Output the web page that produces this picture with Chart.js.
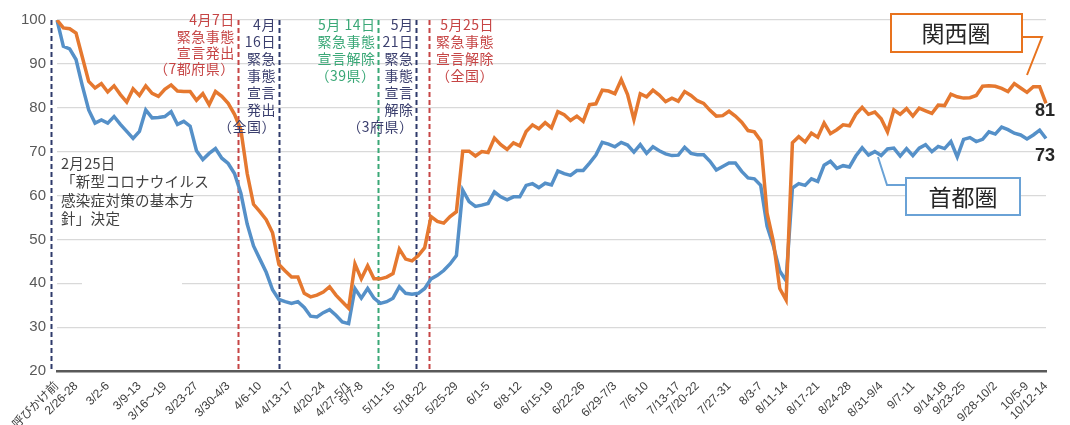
<!DOCTYPE html>
<html>
<head>
<meta charset="utf-8">
<script src="https://cdn.jsdelivr.net/npm/chart.js@4"></script>
<style>
  body { margin: 0; background: #fff; }
  #chart_canvas { display: block; }
</style>
</head>
<body>
<canvas id="chart_canvas" width="1070" height="425"></canvas>
<script>
// week groups on the x axis (label sits on the last business day of each group)
const week_labels = ['呼びかけ前', '2/26-28', '3/2-6', '3/9-13', '3/16～19', '3/23-27', '3/30-4/3',
    '4/6-10', '4/13-17', '4/20-24', '4/27-5/1', '5/7-8', '5/11-15', '5/18-22', '5/25-29',
    '6/1-5', '6/8-12', '6/15-19', '6/22-26', '6/29-7/3', '7/6-10', '7/13-17', '7/20-22',
    '7/27-31', '8/3-7', '8/11-14', '8/17-21', '8/24-28', '8/31-9/4', '9/7-11', '9/14-18',
    '9/23-25', '9/28-10/2', '10/5-9', '10/12-14'];
const week_days = [1, 3, 5, 5, 4, 5, 5, 5, 5, 5, 4, 2, 5, 5, 5, 5, 5, 5, 5, 5, 5, 5, 3,
    5, 5, 4, 5, 5, 5, 5, 5, 3, 5, 5, 3];

// 関西圏 (orange)
const kansai = [
    100, 98.2, 98, 97, 91.5, 86, 84.5, 85.5, 83.6, 85,
    83, 81.3, 84.3, 82.8, 85, 83.3, 82.6, 84.2, 85.2, 83.8,
    83.7, 83.7, 81.7, 83.2, 80.7, 83.7, 82.6, 81, 78.5, 75,
    65, 58, 56.3, 54.5, 51.5, 44.3, 42.8, 41.4, 41.4, 37.7,
    36.9, 37.3, 38, 39.2, 37.3, 35.8, 34.3, 44.4, 41, 44,
    41, 41, 41.4, 42.2, 47.8, 45.5, 45.1, 46.3, 48.1, 55.2,
    54.1, 53.7, 55.2, 56.3, 70.1, 70.1, 69, 70, 69.8, 73.1,
    71.6, 70.5, 72, 71.3, 74.6, 76.1, 75.2, 76.6, 75.4, 79.1,
    78.4, 77.1, 78.1, 76.9, 80.7, 80.9, 84, 83.8, 83.2, 86.4,
    83, 77.3, 83.2, 82.5, 84, 82.9, 81.4, 82.2, 81.5, 83.7,
    82.8, 81.6, 81, 79.4, 78.1, 78.2, 79.2, 78.1, 76.7, 74.8,
    74.5, 72.5, 56, 49.5, 38.8, 36.2, 72, 73.4, 72.2, 74.2,
    73.3, 76.5, 74.1, 75, 76.1, 75.9, 78.5, 80.1, 78.5, 79,
    77.5, 74.5, 79.5, 78.5, 79.8, 78.1, 79.9, 79.3, 78.7, 80.6,
    80.5, 83.1, 82.5, 82.2, 82.3, 82.8, 84.9, 85, 84.9, 84.4,
    83.7, 85.5, 84.5, 83.5, 84.8, 84.8, 81
];

// 首都圏 (blue)
const shutoken = [
    100, 94, 93.4, 91, 85, 79.5, 76.5, 77.2, 76.5, 78,
    76.2, 74.6, 73, 74.6, 79.5, 77.7, 77.8, 78, 79.1, 76.2,
    76.9, 75.8, 70.2, 68.2, 69.6, 70.7, 68.5, 67.3, 65, 60.5,
    53.5, 48.5, 45.5, 42.5, 38.5, 36.3, 35.8, 35.4, 35.8, 34.5,
    32.5, 32.3, 33.3, 34, 32.7, 31.2, 30.8, 38.8, 36.6, 38.8,
    36.6, 35.4, 35.8, 36.6, 39.2, 37.7, 37.5, 37.7, 38.8, 41,
    41.8, 42.9, 44.4, 46.3, 61.2, 58.6, 57.5, 57.8, 58.2, 60.8,
    59.7, 59, 59.7, 59.7, 62.3, 62.7, 61.8, 62.8, 62.4, 65.6,
    65, 64.6, 65.7, 65.7, 67.4, 69.2, 72.1, 71.7, 71.1, 72.1,
    71.5, 69.9, 71.6, 69.6, 71.1, 70.2, 69.5, 69.1, 69.2, 71,
    69.6, 69.3, 69.3, 67.8, 65.8, 66.6, 67.4, 67.4, 65.5, 64,
    63.8, 62.3, 53, 48.5, 42.8, 40.6, 61.7, 62.7, 62.3, 63.8,
    63.2, 66.9, 67.8, 66.2, 66.8, 66.5, 69, 70.9, 69.2, 70,
    69.1, 70.6, 70.8, 69, 70.7, 69.1, 70.8, 71.6, 70, 71.2,
    70.7, 72.3, 68.8, 72.8, 73.2, 72.3, 72.8, 74.5, 74, 75.6,
    75, 74.2, 73.8, 72.9, 73.8, 74.9, 73
];

// events, given as position on the day axis
const event_pos = [-0.9, 28.5, 35, 50.7, 56.7, 58.7];
const event_colors = ['#2E3A6B', '#C64545', '#2E3A6B', '#3AA877', '#2E3A6B', '#C64545'];

const note_texts = [
    ['4月7日', '緊急事態', '宣言発出', '（7都府県）'],
    ['4月', '16日', '緊急', '事態', '宣言', '発出', '（全国）'],
    ['5月 14日', '緊急事態', '宣言解除', '（39県）'],
    ['5月', '21日', '緊急', '事態', '宣言', '解除', '（3府県）'],
    ['5月25日', '緊急事態', '宣言解除', '（全国）']
];
const policy_text = ['2月25日', '「新型コロナウイルス', '感染症対策の基本方', '針」決定'];

const orange = '#E5782F';
const blue = '#5590C8';

// build the day labels from the week groups
let x_labels = [];
for (let w = 0; w < week_labels.length; w++) {
    for (let d = 0; d < week_days[w] - 1; d++) {
        x_labels.push('');
    }
    x_labels.push(week_labels[w]);
}

const jp_font = '"Noto Sans CJK JP", "Noto Sans", sans-serif';

function draw_lines_text(ctx, lines, x, y0, step, align) {
    ctx.textAlign = align;
    for (let i = 0; i < lines.length; i++) {
        ctx.fillText(lines[i], x, y0 + i * step);
    }
}

const overlay_plugin = {
    id: 'overlay',
    beforeDatasetsDraw(chart) {
        const ctx = chart.ctx;
        const xs = chart.scales.x;
        const ys = chart.scales.y;
        ctx.save();
        // white patch over the grid (left over box in the source)
        ctx.fillStyle = '#ffffff';
        ctx.beginPath();
        ctx.roundRect(82, 258, 100, 44, 8);
        ctx.fill();
        // event lines
        ctx.lineWidth = 2;
        ctx.setLineDash([5, 3]);
        for (let i = 0; i < event_pos.length; i++) {
            const px = Math.round(xs.getPixelForValue(event_pos[i])) + 0.5;
            ctx.strokeStyle = event_colors[i];
            ctx.beginPath();
            ctx.moveTo(px, ys.getPixelForValue(100));
            ctx.lineTo(px, ys.getPixelForValue(20));
            ctx.stroke();
        }
        ctx.restore();
    },
    afterDraw(chart) {
        const ctx = chart.ctx;
        const xs = chart.scales.x;
        ctx.save();
        ctx.textBaseline = 'middle';
        ctx.font = '14px ' + jp_font;
        ctx.letterSpacing = '0.5px';

        // event notes, right aligned left of their line
        const note_colors = ['#C64545', '#3B3F6E', '#3AA877', '#3B3F6E', '#C64545'];
        const note_line = [1, 2, 3, 4, 5];
        const note_top = [20, 25, 25, 25, 25];
        const note_step = [16.3, 17, 17, 17, 17];
        for (let n = 0; n < note_texts.length; n++) {
            ctx.fillStyle = note_colors[n];
            let rx = xs.getPixelForValue(event_pos[note_line[n]]) - 3;
            if (n == 4) {
                rx = 494;
            }
            draw_lines_text(ctx, note_texts[n], rx, note_top[n], note_step[n], 'right');
        }

        ctx.fillStyle = '#404040';
        ctx.font = '14.5px ' + jp_font;
        ctx.letterSpacing = '0.3px';
        draw_lines_text(ctx, policy_text, 61, 163, 18.5, 'left');
        ctx.letterSpacing = '0px';

        // series boxes
        ctx.lineWidth = 2;
        ctx.fillStyle = '#ffffff';
        ctx.strokeStyle = '#E8731E';
        ctx.fillRect(891, 14, 131, 38);
        ctx.strokeRect(891, 14, 131, 38);
        ctx.beginPath();
        ctx.moveTo(1022, 37);
        ctx.lineTo(1042, 37);
        ctx.lineTo(1027, 75);
        ctx.stroke();

        ctx.strokeStyle = '#6AA2D6';
        ctx.fillRect(906, 178, 114, 37);
        ctx.strokeRect(906, 178, 114, 37);
        ctx.beginPath();
        ctx.moveTo(906, 185);
        ctx.lineTo(887, 185);
        ctx.lineTo(878, 157);
        ctx.stroke();

        ctx.fillStyle = '#262626';
        ctx.font = '23px ' + jp_font;
        ctx.textAlign = 'center';
        ctx.fillText('関西圏', 956, 33);
        ctx.fillText('首都圏', 963, 197);

        // last values
        ctx.font = 'bold 18px "Liberation Sans", Arial, sans-serif';
        ctx.fillText(String(kansai[kansai.length - 1]), 1045, 111);
        ctx.fillText(String(shutoken[shutoken.length - 1]), 1045, 156);
        ctx.restore();
    }
};

Chart.defaults.font.family = '"Liberation Sans", Arial, "Noto Sans CJK JP", sans-serif';

new Chart(
    document.getElementById('chart_canvas'),
    {
        type: 'line',
        data: {
            labels: x_labels,
            datasets: [
                {
                    label: '関西圏',
                    data: kansai,
                    borderColor: orange,
                    borderWidth: 3.5,
                    pointRadius: 0,
                    tension: 0
                },
                {
                    label: '首都圏',
                    data: shutoken,
                    borderColor: blue,
                    borderWidth: 3.5,
                    pointRadius: 0,
                    tension: 0
                }
            ]
        },
        options: {
            responsive: false,
            animation: false,
            layout: {padding: {top: 13, right: 24, left: 0, bottom: 0}},
            plugins: {
                legend: {display: false},
                tooltip: {enabled: false}
            },
            scales: {
                x: {
                    grid: {display: false, drawTicks: false},
                    border: {color: '#595959', width: 2.5},
                    ticks: {
                        autoSkip: false,
                        maxRotation: 45,
                        minRotation: 45,
                        color: '#404040',
                        font: {size: 12},
                        padding: 8
                    },
                    afterFit: function (scale) {
                        scale.height = 54;
                    }
                },
                y: {
                    min: 20,
                    max: 100,
                    ticks: {stepSize: 10, color: '#595959', font: {size: 15}, padding: 11},
                    grid: {color: '#d9d9d9', lineWidth: 1.2, drawTicks: false},
                    border: {display: false},
                    afterFit: function (scale) {
                        scale.width = 57;
                    }
                }
            }
        },
        plugins: [overlay_plugin]
    }
);
</script>
</body>
</html>
